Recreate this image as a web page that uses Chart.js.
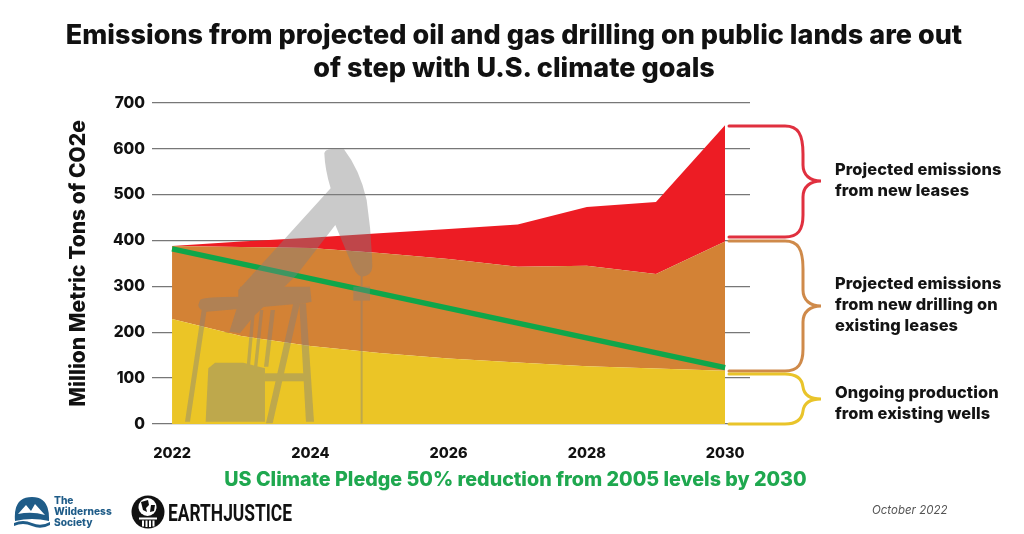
<!DOCTYPE html>
<html>
<head>
<meta charset="utf-8">
<script src="https://cdn.jsdelivr.net/npm/chart.js@4"></script>
<style>
  html, body { margin: 0; padding: 0; background: #fff; }
  #wrap { position: relative; width: 1024px; height: 534px; overflow: hidden; font-family: Inter, sans-serif; }
  canvas { position: absolute; left: 0; top: 0; }
  svg { position: absolute; left: 0; top: 0; }
  #title { position: absolute; left: 0; top: 18px; width: 1028px; text-align: center; font-weight: 800; font-size: 27px; letter-spacing: 0.02px; line-height: 33px; color: #111; white-space: nowrap; }
  .note { position: absolute; left: 835px; font-weight: 800; font-size: 16.4px; line-height: 21px; letter-spacing: 0.1px; color: #141414; white-space: nowrap; }
  #pledge { position: absolute; left: 0; width: 1031px; top: 468px; text-align: center; font-weight: 800; font-size: 19.7px; line-height: 22px; color: #1fa84f; white-space: nowrap; }
  #date { position: absolute; left: 872px; top: 503px; font-style: italic; font-size: 11.5px; line-height: 14px; color: #555; }
</style>
</head>
<body>
<div id="wrap">
  <canvas id="emissionsChart" width="1024" height="534"></canvas>

  <svg width="1024" height="534" viewBox="0 0 1024 534">
    <!-- pump jack -->
    <g transform="translate(140 90) scale(0.3333)" fill="#808080" opacity="0.42">
      <path d="M553,190 Q555,178 575,178 L612,178 Q660,240 680,330 Q695,430 697,530 Q695,558 665,560 Q645,555 630,510 Q605,450 586,405 L470,555 L340,680 L300,730 L268,725 L295,640 L295,600 L572,295 Q555,240 553,190 Z"/>
      <rect x="640" y="590" width="50" height="42"/>
      <rect x="662" y="555" width="6" height="445"/>
      <path d="M180,630 Q190,620 300,620 L300,590 L510,590 L515,635 L495,640 L200,665 Q175,660 175,645 Z"/>
      <path d="M185,660 L200,660 L150,995 L135,995 Z"/>
      <path d="M460,640 L480,640 L398,1000 L378,1000 Z"/>
      <path d="M478,640 L498,640 L522,995 L498,995 Z"/>
      <path d="M335,660 L345,660 L330,830 L320,830 Z"/>
      <path d="M360,660 L370,660 L352,830 L342,830 Z"/>
      <path d="M392,660 L405,660 L385,830 L372,830 Z"/>
      <rect x="375" y="850" width="120" height="24"/>
      <path d="M225,818 L310,818 L375,835 L375,995 L197,995 L205,835 Z"/>
    </g>

    <!-- braces -->
    <g fill="none" stroke-width="3" stroke-linecap="round">
      <path stroke="#e0303f" d="M729,126 H785 C798,126 803,134 803,154 V165 C803,175 810,181 821,181 C810,181 803,187 803,197 V215 C803,230 798,237 785,237 H729"/>
      <path stroke="#cf8a4a" d="M729,241 H785 C798,241 803,249 803,269 V290 C803,300 810,306 821,306 C810,306 803,312 803,322 V349 C803,364 798,371 785,371 H729"/>
      <path stroke="#e9c42a" d="M729,374 H785 C796,374 802,378 803,387 C804,395 810,399 821,399 C810,399 804,403 803,411 C802,420 796,424 785,424 H729"/>
    </g>

    <!-- Wilderness Society logo -->
    <path d="M15,521 Q13,497 32,497 Q50,497 49,521 Q32,517 15,521 Z" fill="#1f5c88"/>
    <path d="M19,509 L32,503 L42,511 L46,514 Q32,511 18,514 Z" fill="#1f5c88"/>
    <path d="M18,514 L26,505 L31,511 L35,504 L45,515 Q32,511 18,514 Z" fill="#fff"/>
    <path d="M14,523 Q23,519 32,523 Q41,527 50,522 L50,525 Q41,530 32,526 Q23,522 14,526 Z" fill="#1f5c88"/>
    <g fill="#1f5c88" font-family="Inter, sans-serif" font-weight="800" font-size="10.2">
      <text x="54" y="504">The</text>
      <text x="54" y="514.5">Wilderness</text>
      <text x="54" y="526">Society</text>
    </g>

    <!-- Earthjustice logo -->
    <circle cx="148" cy="512" r="16.5" fill="#111"/>
    <circle cx="147.5" cy="507" r="9" fill="#fff"/>
    <path d="M141,502 L148,500 L149,505 L146,508 L147,512 L143,510 Z M151,505 L155,505 L154,511 L150,512 Z" fill="#111"/>
    <rect x="139" y="517.5" width="18" height="2" fill="#fff"/>
    <path d="M142,520.5 h2 v6 h-2 Z M145.5,520.5 h2 v6.5 h-2 Z M149,520.5 h2 v6.5 h-2 Z M152.5,520.5 h2 v6 h-2 Z" fill="#fff"/>
    <text x="168" y="521" font-family="Roboto, sans-serif" font-weight="700" font-size="24" fill="#111" textLength="124" lengthAdjust="spacingAndGlyphs">EARTHJUSTICE</text>
  </svg>

  <div id="title">Emissions from projected oil and gas drilling on public lands are out<br>of step with U.S. climate goals</div>
  <div class="note" style="top:159px">Projected emissions<br>from new leases</div>
  <div class="note" style="top:273px">Projected emissions<br>from new drilling on<br>existing leases</div>
  <div class="note" style="top:382px">Ongoing production<br>from existing wells</div>
  <div id="pledge">US Climate Pledge 50% reduction from 2005 levels by 2030</div>
  <div id="date">October 2022</div>
</div>

<script>
const years = [2022, 2023, 2024, 2025, 2026, 2027, 2028, 2029, 2030];
const yearTicks = [2022, 2024, 2026, 2028, 2030];

// tops of the three areas
const existingWells = [229, 192, 170, 155, 143, 134, 126, 121, 116];
const newDrilling = [388, 386, 384, 373, 360, 343, 345, 327, 398];
const newLeases = [388, 398, 406, 416, 425, 435, 473, 484, 652];

const pledgeYears = [2022, 2030];
const pledgeValues = [382, 123];

function points(xs, ys) {
    return xs.map((x, i) => ({ x: x, y: ys[i] }));
}

new Chart(document.getElementById('emissionsChart'), {
    type: 'line',
    data: {
        datasets: [{
            label: 'US Climate Pledge',
            data: points(pledgeYears, pledgeValues),
            borderColor: '#0fa64a',
            borderWidth: 5.5,
            borderCapStyle: 'butt',
            fill: false
        }, {
            label: 'Ongoing production from existing wells',
            data: points(years, existingWells),
            backgroundColor: '#ebc526',
            borderWidth: 0,
            fill: 'origin'
        }, {
            label: 'Projected emissions from new drilling on existing leases',
            data: points(years, newDrilling),
            backgroundColor: '#d38235',
            borderWidth: 0,
            fill: '-1'
        }, {
            label: 'Projected emissions from new leases',
            data: points(years, newLeases),
            backgroundColor: '#ed1c24',
            borderWidth: 0,
            fill: '-1'
        }]
    },
    options: {
        responsive: false,
        animation: false,
        devicePixelRatio: 1,
        layout: { padding: { left: 0, right: 274, top: 103, bottom: 0 } },
        elements: { point: { radius: 0 }, line: { tension: 0 } },
        plugins: {
            legend: { display: false },
            tooltip: { enabled: false }
        },
        scales: {
            x: {
                type: 'linear',
                min: 2021.71,
                max: 2030.36,
                afterFit: function (scale) { scale.height = 110; },
                afterBuildTicks: function (scale) {
                    scale.ticks = yearTicks.map(v => ({ value: v }));
                },
                grid: { display: false },
                border: { display: false },
                ticks: {
                    padding: 13,
                    color: '#111',
                    maxRotation: 0,
                    font: { family: 'Inter', size: 14.5, weight: '800' },
                    callback: function (v) { return String(v); }
                }
            },
            y: {
                min: 0,
                max: 700,
                afterFit: function (scale) { scale.width = 152; },
                grid: { color: '#777', lineWidth: 1.3, drawTicks: false },
                border: { display: false },
                title: {
                    display: true,
                    text: 'Million Metric Tons of CO2e',
                    color: '#111',
                    font: { family: 'Inter', size: 21, weight: '800' },
                    padding: { top: 66, bottom: 0 }
                },
                ticks: {
                    stepSize: 100,
                    padding: 7,
                    color: '#111',
                    font: { family: 'Inter', size: 15.5, weight: '800' }
                }
            }
        }
    }
});
</script>
</body>
</html>
